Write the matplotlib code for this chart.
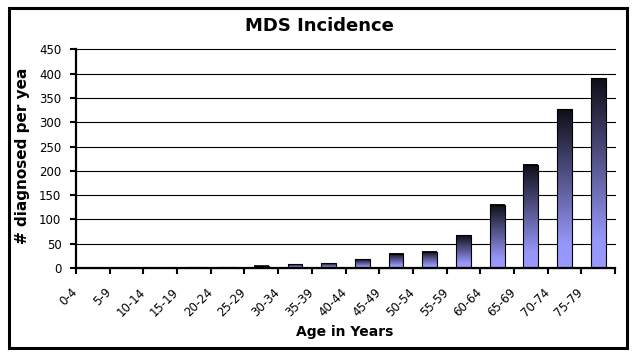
import numpy as np
import matplotlib
matplotlib.use('Agg')
import matplotlib.pyplot as plt
from matplotlib.colors import LinearSegmentedColormap
from matplotlib.patches import Rectangle
from matplotlib.transforms import ScaledTranslation

categories = ['0-4', '5-9', '10-14', '15-19', '20-24', '25-29', '30-34', '35-39',
              '40-44', '45-49', '50-54', '55-59', '60-64', '65-69', '70-74', '75-79']
values = [0, 0, 0, 2, 2, 5, 8, 10, 18, 29, 33, 67, 130, 212, 327, 390]
y_ticks = [0, 50, 100, 150, 200, 250, 300, 350, 400, 450]
title = 'MDS Incidence'
xlabel = 'Age in Years'
ylabel = '# diagnosed per yea'

plt.rcParams['font.family'] = ['DejaVu Sans']
W, H = 633, 356
fig = plt.figure(figsize=(W / 100, H / 100), dpi=100)
ax = fig.add_axes([76 / W, 1 - 268 / H, (615 - 76) / W, (268 - 49.3) / H])

x = np.arange(len(categories))
bars = ax.bar(x, values, width=0.44, facecolor='none', edgecolor='black',
              linewidth=0.8, zorder=3)
cmap = LinearSegmentedColormap.from_list(
    'g', [(0, '#9999ff'), (0.15, '#9797fa'), (1, '#0e0e16')])
grad = np.linspace(0, 1, 256).reshape(-1, 1)
for b in bars:
    h = b.get_height()
    if h <= 0:
        continue
    ax.imshow(grad, extent=[b.get_x(), b.get_x() + b.get_width(), 0, h],
              origin='lower', aspect='auto', cmap=cmap, zorder=2,
              interpolation='bilinear')

ax.set_xlim(-0.5, len(categories) - 0.5)
ax.set_ylim(0, 450)
ax.set_yticks(y_ticks)
ax.yaxis.grid(True, color='black', linewidth=0.8)
ax.set_axisbelow(True)
for gl in ax.get_ygridlines():
    gl.set_clip_on(False)
for s in ['top', 'right']:
    ax.spines[s].set_visible(False)
ax.spines['left'].set_linewidth(1.6)
ax.spines['bottom'].set_linewidth(1.6)

ax.set_xticks(np.arange(-0.5, len(categories), 1))
ax.set_xticklabels([])
ax.set_xticks(x, categories, minor=True)
ax.tick_params(axis='x', which='major', direction='out', length=4, width=1.5)
ax.tick_params(axis='x', which='minor', length=0, pad=16, labelsize=8.5)
ax.tick_params(axis='y', direction='out', length=4.5, width=1.5, pad=6,
               labelsize=8.5)
for lab in ax.get_xticklabels(minor=True):
    lab.set_rotation(45)
    lab.set_ha('right')
    lab.set_va('center')
    lab.set_rotation_mode('anchor')
    lab.set_transform(lab.get_transform() +
                      ScaledTranslation(-0.17, 0, fig.dpi_scale_trans))

fig.text(319 / W, 1 - 30.7 / H, title, ha='center', va='baseline',
         fontsize=13, fontweight='bold')
fig.text(345 / W, 1 - 336 / H, xlabel, ha='center', va='baseline',
         fontsize=10, fontweight='bold')
fig.text(27 / W, 1 - 156 / H, ylabel, rotation=90, rotation_mode='anchor',
         ha='center', va='baseline', fontsize=11, fontweight='bold')

fig.add_artist(Rectangle((9 / W, 1 - 348 / H), 618 / W, (348 - 7.5) / H,
                         transform=fig.transFigure, fill=False,
                         edgecolor='black', linewidth=2.2))

fig.savefig('out.png', dpi=100)
